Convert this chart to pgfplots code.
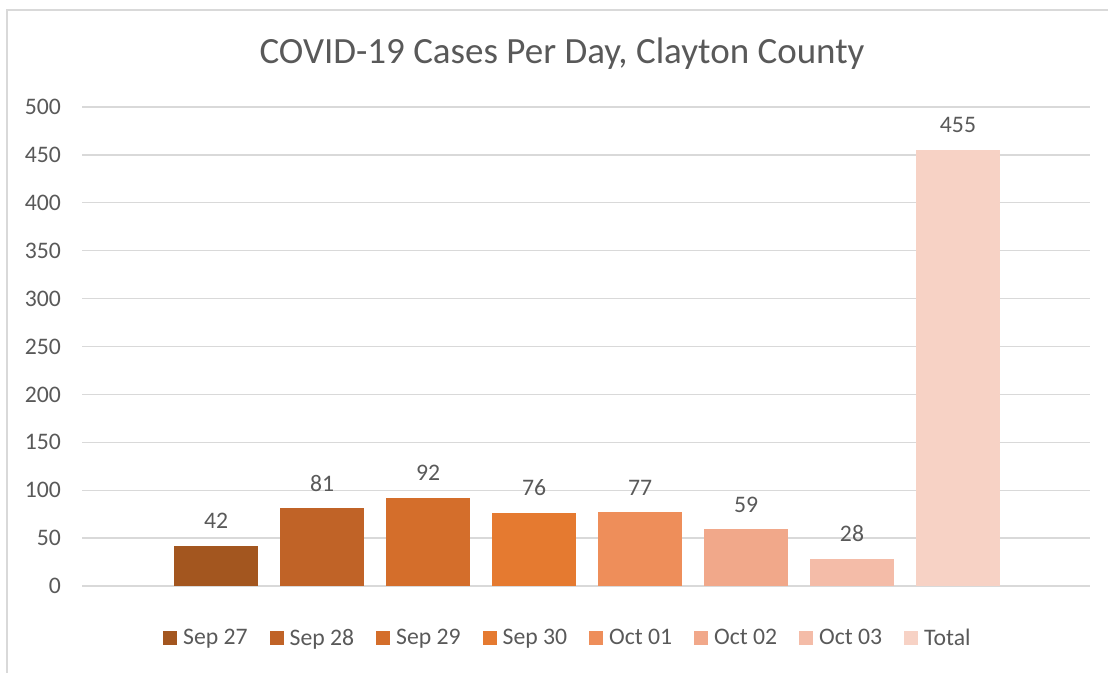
\documentclass[border=0pt]{standalone}
\usepackage{fontspec}
\setmainfont{Carlito}
\usepackage{pgfplots}
\pgfplotsset{compat=1.18}

\definecolor{txtgray}{HTML}{595959}
\definecolor{gridgray}{HTML}{D9D9D9}
\definecolor{cA}{HTML}{A3561F}
\definecolor{cB}{HTML}{C06327}
\definecolor{cC}{HTML}{D46E2B}
\definecolor{cD}{HTML}{E57A30}
\definecolor{cE}{HTML}{EE8E5A}
\definecolor{cF}{HTML}{F1A88A}
\definecolor{cG}{HTML}{F4BCA8}
\definecolor{cH}{HTML}{F7D2C5}

\begin{document}
\begin{tikzpicture}
\path[use as bounding box] (0,0) rectangle (1108bp,673bp);
% chart frame (left and top edges visible)
\draw[gridgray, line width=1.5bp] (7bp,0) -- (7bp,663bp) -- (1108bp,663bp);

\node[anchor=base, text=txtgray, font=\fontsize{37bp}{44bp}\selectfont]
  at (562bp,609bp) {COVID-19 Cases Per Day, Clayton County};

\begin{axis}[
  at={(82bp,87bp)}, anchor=south west,
  scale only axis, width=1008bp, height=479bp,
  xmin=-0.265, xmax=9.246,
  ymin=0, ymax=500,
  ytick={0,50,...,500},
  xtick=\empty,
  axis line style={draw=none},
  major tick length=0pt,
  ymajorgrids,
  grid style={gridgray, line width=1.3bp},
  /pgf/number format/assume math mode=true,
  yticklabel style={font=\fontsize{23.7bp}{28bp}\selectfont, text=txtgray,
    inner sep=0pt, xshift=-21bp},
  ybar, bar width=84bp,
  every axis plot/.append style={bar shift=0pt, draw=none},
  nodes near coords,
  nodes near coords style={font=\fontsize{23.7bp}{28bp}\selectfont, text=txtgray,
    inner sep=0pt, anchor=south, yshift=17bp},
  clip=false,
  legend columns=8,
  legend style={draw=none, fill=none, at={(0.482,-0.1086)}, anchor=center,
    font=\fontsize{23.7bp}{28bp}\selectfont, text=txtgray,
    /tikz/every odd column/.append style={column sep=4bp},
    /tikz/every even column/.append style={column sep=20bp},
    inner sep=0pt},
  legend cell align=left,
  legend image code/.code={\fill[#1] (0bp,-7bp) rectangle (14bp,7bp);},
]
\addplot[fill=cA] coordinates {(1,42)};
\addplot[fill=cB] coordinates {(2,81)};
\addplot[fill=cC] coordinates {(3,92)};
\addplot[fill=cD] coordinates {(4,76)};
\addplot[fill=cE] coordinates {(5,77)};
\addplot[fill=cF] coordinates {(6,59)};
\addplot[fill=cG] coordinates {(7,28)};
\addplot[fill=cH] coordinates {(8,455)};
\legend{Sep 27,Sep 28,Sep 29,Sep 30,Oct 01,Oct 02,Oct 03,Total}
\end{axis}
\end{tikzpicture}
\end{document}
